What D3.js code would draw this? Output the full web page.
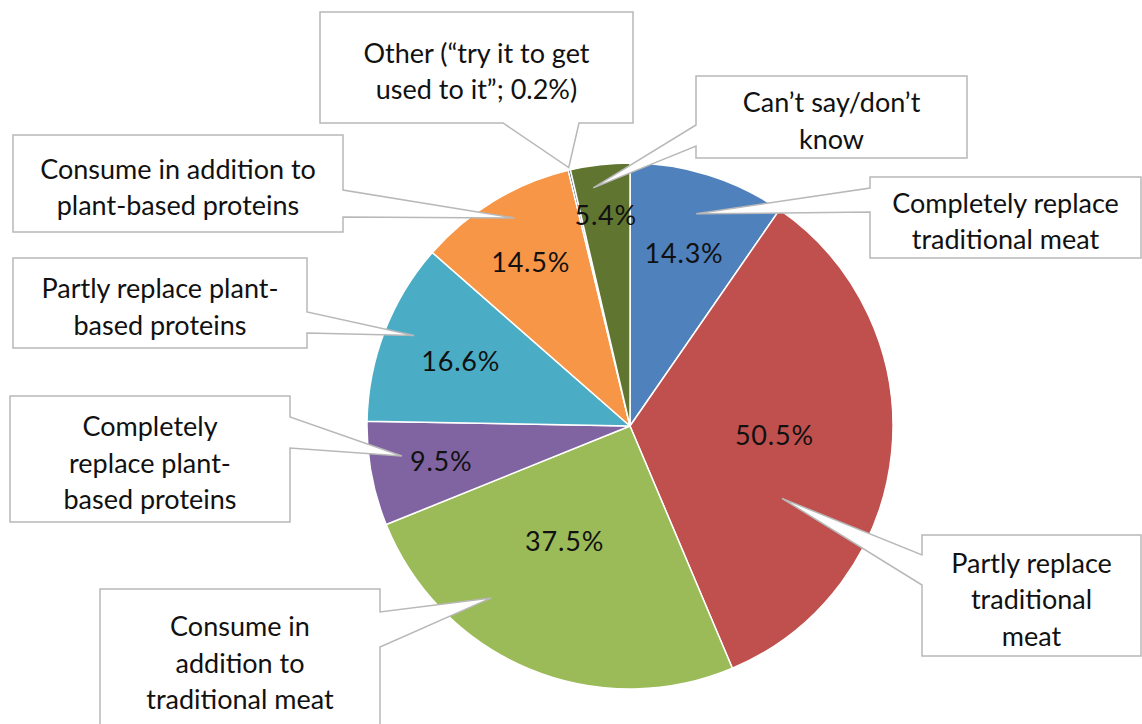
<!DOCTYPE html>
<html><head><meta charset="utf-8">
<script src="https://cdn.jsdelivr.net/npm/d3@7"></script>
<style>html,body{margin:0;padding:0;background:#fff;} svg{display:block;}</style>
</head><body><svg id="c" width="1142" height="724"></svg>
<script>
// ---- data ----
const categories = [
  "Completely replace traditional meat",
  "Partly replace traditional meat",
  "Consume in addition to traditional meat",
  "Completely replace plant-based proteins",
  "Partly replace plant-based proteins",
  "Consume in addition to plant-based proteins",
  "Other (“try it to get used to it”; 0.2%)",
  "Can’t say/don’t know"
];
const values = [14.3, 50.5, 37.5, 9.5, 16.6, 14.5, 0.2, 5.4];
const percentLabels = ["14.3%", "50.5%", "37.5%", "9.5%", "16.6%", "14.5%", "", "5.4%"];
const calloutLines = [
  ["Completely replace", "traditional meat"],
  ["Partly replace", "traditional", "meat"],
  ["Consume in", "addition to", "traditional meat"],
  ["Completely", "replace plant-", "based proteins"],
  ["Partly replace plant-", "based proteins"],
  ["Consume in addition to", "plant-based proteins"],
  ["Other (“try it to get", "used to it”; 0.2%)"],
  ["Can’t say/don’t", "know"]
];
const colors = ["#4F81BD", "#C0504D", "#9BBB59", "#8064A2", "#4BACC6", "#F79646", "#2C4D75", "#5F7530"];

// ---- layout (annotation placement) ----
const cx = 630, cy = 426, R = 263;
const labelPos = [ // [fraction along slice angle, radius fraction]
  [0.5, 0.69], [0.48, 0.55], [0.58, 0.5], [0.5, 0.73], [0.5, 0.69], [0.5, 0.73], [0.5, 0], [0.5, 0.81]
];
const boxes = [ // x, y, w, h, side, p1, p2, tip angle frac, tip radius frac
  [870, 177, 271, 81, "left", 188, 212, 0.5, 0.845],
  [922, 535, 219, 121, "left", 555, 585, 0.66, 0.64],
  [100, 589, 280, 140, "right", 612, 647, 0.68, 0.84],
  [10, 396, 280, 126, "right", 417, 448, 0.63, 0.875],
  [13, 258, 294, 90, "right", 312, 333, 0.54, 0.89],
  [13, 135, 330, 97, "right", 190, 217, 0.56, 0.905],
  [320, 12, 313, 111, "bottom", 503, 579, 0.5, 1.01],
  [696, 76, 271, 82, "left", 125, 146, 0.33, 0.916]
];

const svg = d3.select("#c");
const FONT = "Lato, 'Open Sans', sans-serif";

const pie = d3.pie().value(d => d).sort(null);
const arcs = pie(values);
const arc = d3.arc().innerRadius(0).outerRadius(R);

const g = svg.append("g").attr("transform", `translate(${cx},${cy})`);
g.selectAll("path.slice").data(arcs).join("path")
  .attr("class", "slice")
  .attr("d", arc)
  .attr("fill", (d, i) => colors[i])
  .attr("stroke", "#fff").attr("stroke-width", 1.5).attr("stroke-linejoin", "round");

function pt(a, r) { return [cx + r * Math.sin(a), cy - r * Math.cos(a)]; }

// percent labels
arcs.forEach((d, i) => {
  if (!percentLabels[i]) return;
  const a = d.startAngle + (d.endAngle - d.startAngle) * labelPos[i][0];
  const [x, y] = pt(a, R * labelPos[i][1]);
  svg.append("text").attr("x", x).attr("y", y)
    .attr("text-anchor", "middle").attr("dominant-baseline", "central")
    .attr("font-family", FONT).attr("font-size", 27).attr("letter-spacing", 0.8)
    .attr("fill", "#111")
    .text(percentLabels[i]);
});

// callouts
arcs.forEach((d, i) => {
  const [x, y, w, h, side, p1, p2, tf, tr] = boxes[i];
  const a = d.startAngle + (d.endAngle - d.startAngle) * tf;
  const [tx, ty] = pt(a, R * tr);
  const p = d3.path();
  if (side === "left") {
    p.moveTo(x, y); p.lineTo(x + w, y); p.lineTo(x + w, y + h); p.lineTo(x, y + h);
    p.lineTo(x, p2); p.lineTo(tx, ty); p.lineTo(x, p1); p.closePath();
  } else if (side === "right") {
    p.moveTo(x, y); p.lineTo(x + w, y); p.lineTo(x + w, p1); p.lineTo(tx, ty);
    p.lineTo(x + w, p2); p.lineTo(x + w, y + h); p.lineTo(x, y + h); p.closePath();
  } else {
    p.moveTo(x, y); p.lineTo(x + w, y); p.lineTo(x + w, y + h); p.lineTo(p2, y + h);
    p.lineTo(tx, ty); p.lineTo(p1, y + h); p.lineTo(x, y + h); p.closePath();
  }
  svg.append("path").attr("d", p.toString())
    .attr("fill", "#fff").attr("stroke", "#b8b8b8").attr("stroke-width", 1.5)
    .attr("stroke-linejoin", "miter");
  const lines = calloutLines[i];
  const lh = 36.5;
  const t = svg.append("text").attr("text-anchor", "middle")
    .attr("font-family", FONT).attr("font-size", 27).attr("fill", "#111");
  lines.forEach((ln, k) => {
    t.append("tspan").attr("x", x + w / 2)
      .attr("y", y + h / 2 + 3 + (k - (lines.length - 1) / 2) * lh)
      .attr("dominant-baseline", "central").text(ln);
  });
});
</script></body></html>
